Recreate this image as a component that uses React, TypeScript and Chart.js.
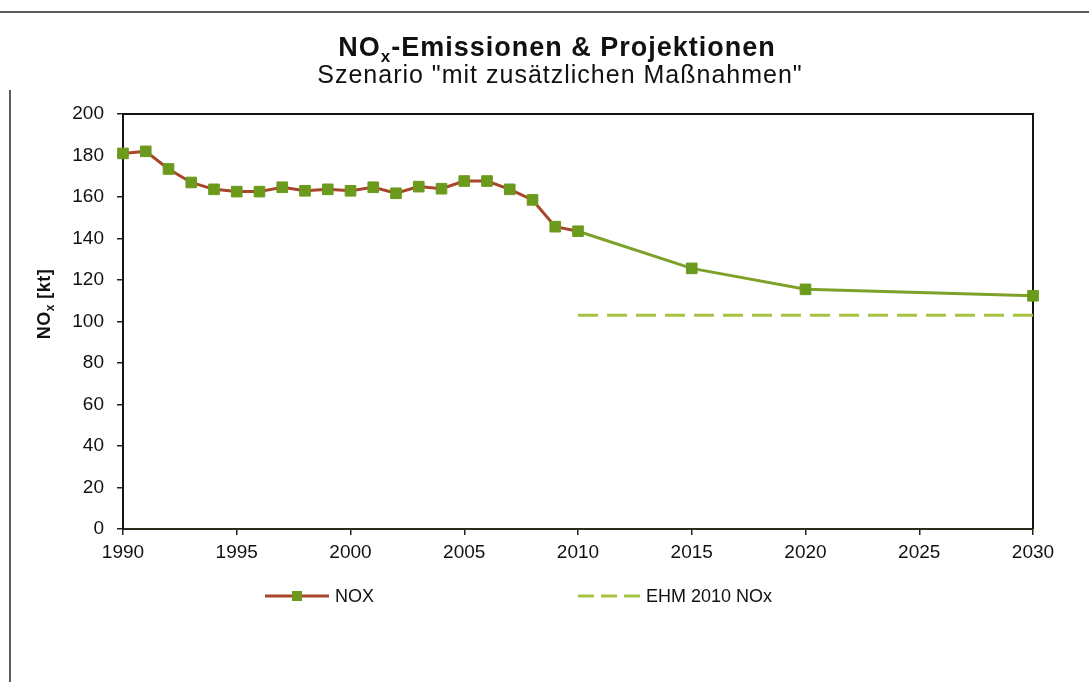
import React, { useEffect, useRef } from "react";
import { Chart, registerables } from "chart.js";

Chart.register(...registerables);

// ---- Data ----
const noxYears = [1990, 1991, 1992, 1993, 1994, 1995, 1996, 1997, 1998, 1999, 2000, 2001, 2002, 2003, 2004, 2005, 2006, 2007, 2008, 2009, 2010, 2015, 2020, 2030];
const noxValues = [181, 182, 173.5, 167, 163.7, 162.6, 162.6, 164.7, 163, 163.7, 163, 164.7, 161.8, 165, 164, 167.7, 167.7, 163.7, 158.6, 145.7, 143.5, 125.6, 115.5, 112.4];
const projectionStartYear = 2010;
const ehmYears = [2010, 2030];
const ehmValues = [103, 103];
const xTickStep = 5;
const yTickStep = 20;
const xRange = [1990, 2030];
const yRange = [0, 200];

const titleMain = ["NO", "x", "-Emissionen & Projektionen"];
const subtitle = 'Szenario "mit zusätzlichen Maßnahmen"';
const yTitle = ["NO", "x", " [kt]"];
const legendLabels = ["NOX", "EHM 2010 NOx"];

const FONT = "'Liberation Sans', Arial, Helvetica, sans-serif";
const RED = "#a8452b";
const MARKER = "#6b9a1c";
const PROJ = "#7da129";
const DASH = "#a6c343";

const decorPlugin = {
  id: "decor",
  beforeDatasetsDraw(chart: any) {
    const ctx = chart.ctx as CanvasRenderingContext2D;
    const a = chart.chartArea;
    ctx.save();
    ctx.strokeStyle = "#151510";
    ctx.lineWidth = 2;
    ctx.beginPath();
    ctx.moveTo(a.left, a.top);
    ctx.lineTo(a.right, a.top);
    ctx.lineTo(a.right, a.bottom);
    ctx.stroke();
    ctx.restore();
  },
  afterDraw(chart: any) {
    const ctx = chart.ctx as CanvasRenderingContext2D;
    ctx.save();
    // outer frame (scan)
    ctx.strokeStyle = "#2a2a22";
    ctx.lineWidth = 1.5;
    ctx.beginPath();
    ctx.moveTo(0, 12);
    ctx.lineTo(1089, 12);
    ctx.moveTo(10, 90);
    ctx.lineTo(10, 682);
    ctx.stroke();

    ctx.fillStyle = "#111";
    (ctx as any).letterSpacing = "1px";
    // title with subscript
    const bigB = `bold 27px ${FONT}`;
    const smallB = `bold 17px ${FONT}`;
    ctx.font = bigB;
    const w1 = ctx.measureText(titleMain[0]).width;
    const w3 = ctx.measureText(titleMain[2]).width;
    ctx.font = smallB;
    const w2 = ctx.measureText(titleMain[1]).width;
    let x = 557 - (w1 + w2 + w3) / 2;
    ctx.textBaseline = "alphabetic";
    ctx.textAlign = "left";
    ctx.font = bigB;
    ctx.fillText(titleMain[0], x, 56);
    x += w1;
    ctx.font = smallB;
    ctx.fillText(titleMain[1], x, 62);
    x += w2;
    ctx.font = bigB;
    ctx.fillText(titleMain[2], x, 56);

    ctx.font = `25px ${FONT}`;
    ctx.textAlign = "center";
    ctx.fillText(subtitle, 560, 83);

    // y axis title
    (ctx as any).letterSpacing = "0.5px";
    ctx.save();
    ctx.translate(50, 304);
    ctx.rotate(-Math.PI / 2);
    const yb = `bold 18px ${FONT}`;
    const ys = `bold 12px ${FONT}`;
    ctx.font = yb;
    const a1 = ctx.measureText(yTitle[0]).width;
    const a3 = ctx.measureText(yTitle[2]).width;
    ctx.font = ys;
    const a2 = ctx.measureText(yTitle[1]).width;
    let tx = -(a1 + a2 + a3) / 2;
    ctx.textAlign = "left";
    ctx.textBaseline = "alphabetic";
    ctx.font = yb;
    ctx.fillText(yTitle[0], tx, 0);
    tx += a1;
    ctx.font = ys;
    ctx.fillText(yTitle[1], tx, 4);
    tx += a2;
    ctx.font = yb;
    ctx.fillText(yTitle[2], tx, 0);
    ctx.restore();
    (ctx as any).letterSpacing = "0px";

    // legend
    const ly = 596;
    ctx.lineWidth = 3;
    ctx.strokeStyle = RED;
    ctx.beginPath();
    ctx.moveTo(265, ly);
    ctx.lineTo(329, ly);
    ctx.stroke();
    ctx.fillStyle = MARKER;
    ctx.fillRect(297 - 5, ly - 5, 10, 10);
    ctx.fillStyle = "#111";
    ctx.font = `18px ${FONT}`;
    ctx.textAlign = "left";
    ctx.textBaseline = "middle";
    ctx.fillText(legendLabels[0], 335, ly + 1);

    ctx.strokeStyle = DASH;
    ctx.setLineDash([16, 7]);
    ctx.beginPath();
    ctx.moveTo(578, ly);
    ctx.lineTo(642, ly);
    ctx.stroke();
    ctx.setLineDash([]);
    ctx.fillStyle = "#111";
    ctx.fillText(legendLabels[1], 646, ly + 1);
    ctx.restore();
  },
};

export default function App() {
  const ref = useRef<HTMLCanvasElement | null>(null);
  useEffect(() => {
    if (!ref.current) return;
    const tickFont = { family: FONT, size: 19 };
    const chart = new Chart(ref.current, {
      type: "line",
      data: {
        datasets: [
          {
            label: legendLabels[0],
            data: noxYears.map((x, i) => ({ x, y: noxValues[i] })),
            borderColor: RED,
            borderWidth: 3,
            pointStyle: "rect",
            pointRadius: 7.5,
            pointHoverRadius: 7.5,
            pointBackgroundColor: MARKER,
            pointBorderColor: MARKER,
            pointBorderWidth: 1,
            tension: 0,
            clip: false,
            segment: {
              borderColor: (c: any) => (c.p0.parsed.x >= projectionStartYear ? PROJ : undefined),
            },
            order: 1,
          },
          {
            label: legendLabels[1],
            data: ehmYears.map((x, i) => ({ x, y: ehmValues[i] })),
            borderColor: DASH,
            borderWidth: 3,
            borderDash: [20, 9],
            pointRadius: 0,
            tension: 0,
            order: 2,
          },
        ],
      },
      options: {
        responsive: false,
        animation: false,
        events: [],
        layout: { padding: { left: 0, right: 56, top: 114, bottom: 113 } },
        plugins: {
          legend: { display: false },
          title: { display: false },
          tooltip: { enabled: false },
        },
        scales: {
          x: {
            type: "linear",
            min: xRange[0],
            max: xRange[1],
            ticks: {
              stepSize: xTickStep,
              callback: (v: any) => String(v),
              font: tickFont,
              color: "#111",
              padding: 6,
              maxRotation: 0,
            },
            grid: { drawOnChartArea: false, tickLength: 6, color: "#222", lineWidth: 1.5 },
            border: { color: "#2c2c1c", width: 2 },
            afterFit: (s: any) => {
              s.height = 40;
            },
          },
          y: {
            type: "linear",
            min: yRange[0],
            max: yRange[1],
            ticks: {
              stepSize: yTickStep,
              callback: (v: any) => String(v),
              font: tickFont,
              color: "#111",
              padding: 13,
            },
            grid: { drawOnChartArea: false, tickLength: 6, color: "#222", lineWidth: 1.5 },
            border: { color: "#151510", width: 2 },
            afterFit: (s: any) => {
              s.width = 123;
            },
          },
        },
      },
      plugins: [decorPlugin],
    });
    return () => chart.destroy();
  }, []);
  return (
    <div style={{ position: "absolute", left: 0, top: 0, width: 1089, height: 682, background: "#fff" }}>
      <canvas ref={ref} width={1089} height={682} style={{ display: "block" }} />
    </div>
  );
}
